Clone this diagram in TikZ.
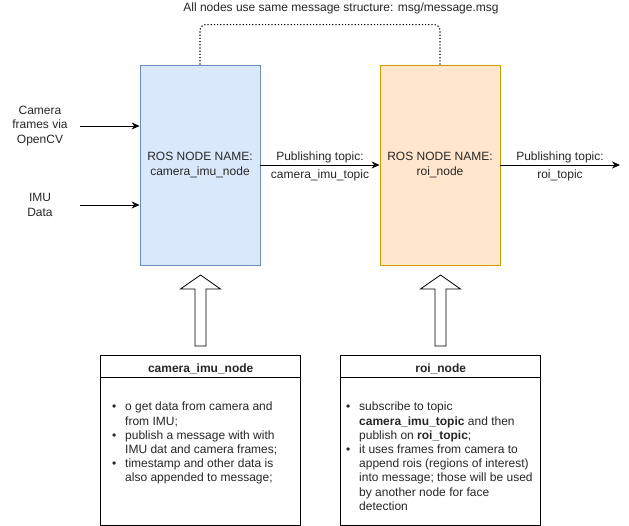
\documentclass[tikz,border=0pt]{standalone}
\usepackage{fontspec}
\setmainfont{Liberation Sans}
\usetikzlibrary{arrows.meta}
\definecolor{bluefill}{HTML}{DAE8FC}
\definecolor{bluedraw}{HTML}{6C8EBF}
\definecolor{orangefill}{HTML}{FFE6CC}
\definecolor{orangedraw}{HTML}{D79B00}
\tikzset{
  x=1pt, y=-1pt,
  every node/.style={font=\fontsize{12}{14.2}\selectfont, inner sep=0pt, text=black!85},
  rosbox/.style={draw, minimum width=120pt, minimum height=200pt, align=center, line width=0.8pt},
  descbox/.style={draw, minimum width=200pt, minimum height=170pt, line width=0.8pt},
  lbl/.style={align=center},
  flow/.style={-{Stealth[length=8pt,width=7pt]}, line width=0.8pt},
  blockarrow/.style={draw, fill=white, line width=0.8pt},
  dotline/.style={dash pattern=on 1.2pt off 2pt, line width=1.1pt, rounded corners=6pt},
}
\newcommand{\bitem}{\makebox[13pt][l]{\textbullet}}
\newcommand{\bcont}{\hspace*{13pt}}
\begin{document}
\begin{tikzpicture}
\useasboundingbox (0,0) rectangle (629,526);
% top note
\node[lbl] (note) at (341,8) {All nodes use same message structure: msg/message.msg};
% ROS nodes
\node[rosbox, fill=bluefill, draw=bluedraw] (cam) at (200,165) {ROS NODE NAME:\\camera\_imu\_node};
\node[rosbox, fill=orangefill, draw=orangedraw] (roi) at (440,165) {ROS NODE NAME:\\roi\_node};
% dotted link
\draw[dotline] (cam.north) -- ++(0,-40) -| (roi.north);
% inputs
\node[lbl] (camin) at (40,126) {Camera\\frames via\\OpenCV};
\node[lbl] (imuin) at (40,205) {IMU\\Data};
\coordinate (c1) at (80,126);
\coordinate (c2) at (80,205);
\draw[flow] (c1) -- (c1 -| cam.west);
\draw[flow] (c2) -- (c2 -| cam.west);
% publishing arrows
\draw[flow] (cam.east) -- (roi.west);
\node[lbl] (pub1) at (320,157) {Publishing topic:};
\node[lbl] (top1) at (320,175) {camera\_imu\_topic};
\coordinate (out) at (620,165);
\draw[flow] (roi.east) -- (out);
\node[lbl] (pub2) at (560,157) {Publishing topic:};
\node[lbl] (top2) at (560,175) {roi\_topic};
% block arrows
\draw[blockarrow] (200.5,275) -- (220.5,289) -- (206,289) -- (206,346) -- (195,346) -- (195,289) -- (180.5,289) -- cycle;
\draw[blockarrow] (440.5,275) -- (460.5,289) -- (446,289) -- (446,346) -- (435,346) -- (435,289) -- (420.5,289) -- cycle;
% description boxes
\node[descbox] (camdesc) at (200.7,440.7) {};
\draw[line width=0.8pt] ([yshift=-22.5pt]camdesc.north west) -- ([yshift=-22.5pt]camdesc.north east);
\node[lbl, font=\bfseries\fontsize{12}{14}\selectfont] (camtitle) at (200.7,369) {camera\_imu\_node};
\node[align=left, anchor=north west] (cambody) at (112,402) {%
\bitem o get data from camera and\\
\bcont from IMU;\\
\bitem publish a message with with\\
\bcont IMU dat and camera frames;\\
\bitem timestamp and other data is\\
\bcont also appended to message;};
\node[descbox] (roidesc) at (440.7,440.7) {};
\draw[line width=0.8pt] ([yshift=-22.5pt]roidesc.north west) -- ([yshift=-22.5pt]roidesc.north east);
\node[lbl, font=\bfseries\fontsize{12}{14}\selectfont] (roititle) at (440.7,369) {roi\_node};
\node[align=left, anchor=north west] (roibody) at (346,402) {%
\bitem subscribe to topic\\
\bcont \textbf{camera\_imu\_topic} and then\\
\bcont publish on \textbf{roi\_topic};\\
\bitem it uses frames from camera to\\
\bcont append rois (regions of interest)\\
\bcont into message; those will be used\\
\bcont by another node for face\\
\bcont detection};
\end{tikzpicture}
\end{document}
